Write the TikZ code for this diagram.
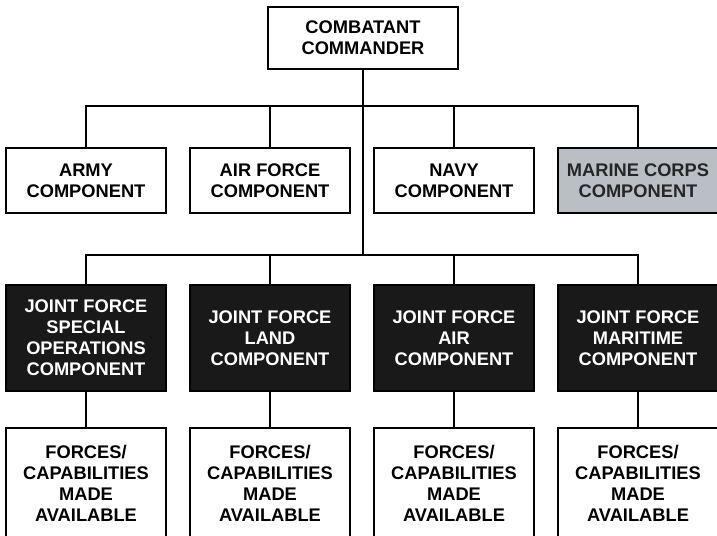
\documentclass[tikz,border=0pt]{standalone}
\usepackage{fontspec}
\setmainfont{Liberation Sans}
\usetikzlibrary{positioning}

\definecolor{marinegray}{RGB}{186,191,198}

\tikzset{
  unitbox/.style={draw, line width=1.4pt, minimum width=4cm, align=center,
    font=\fontsize{13}{15}\selectfont\bfseries, inner sep=0pt},
  svcbox/.style={unitbox, minimum height=1.625cm},
  jfbox/.style={unitbox, fill=black!90, text=white, minimum height=2.65cm},
  forcebox/.style={unitbox, minimum height=2.8cm},
  link/.style={line width=1.4pt}
}

\begin{document}
\begin{tikzpicture}
  \clip (0,0) rectangle (17.925,-13.4);

  % Kommandeur
  \node[unitbox, minimum width=4.75cm, minimum height=1.55cm] (cc) at (9.075,-0.95)
    {COMBATANT\\COMMANDER};

  % Teilstreitkraefte
  \node[svcbox] (army)   at (2.15,-4.5125)  {ARMY\\COMPONENT};
  \node[svcbox] (air)    at (6.75,-4.5125)  {AIR FORCE\\COMPONENT};
  \node[svcbox] (navy)   at (11.35,-4.5125) {NAVY\\COMPONENT};
  \node[svcbox, fill=marinegray, text=black!85] (marine) at (15.95,-4.5125)
    {MARINE CORPS\\COMPONENT};

  % Joint Force Komponenten
  \node[jfbox] (jfsoc)  at (2.15,-8.45)  {JOINT FORCE\\SPECIAL\\OPERATIONS\\COMPONENT};
  \node[jfbox] (jflcc)  at (6.75,-8.45)  {JOINT FORCE\\LAND\\COMPONENT};
  \node[jfbox] (jfacc)  at (11.35,-8.45) {JOINT FORCE\\AIR\\COMPONENT};
  \node[jfbox] (jfmcc)  at (15.95,-8.45) {JOINT FORCE\\MARITIME\\COMPONENT};

  % Kraefte
  \node[forcebox] (forces1) at (2.15,-12.09)  {FORCES/\\CAPABILITIES\\MADE\\AVAILABLE};
  \node[forcebox] (forces2) at (6.75,-12.09)  {FORCES/\\CAPABILITIES\\MADE\\AVAILABLE};
  \node[forcebox] (forces3) at (11.35,-12.09) {FORCES/\\CAPABILITIES\\MADE\\AVAILABLE};
  \node[forcebox] (forces4) at (15.95,-12.09) {FORCES/\\CAPABILITIES\\MADE\\AVAILABLE};

  % Verbindungslinien
  \coordinate (bus1) at (0,-2.65);
  \coordinate (bus2) at (0,-6.375);
  \draw[link] (cc.south) -- (cc.south |- bus2);
  \draw[link] (army.north) -- (army.north |- bus1) -- (marine.north |- bus1) -- (marine.north);
  \draw[link] (air.north) -- (air.north |- bus1);
  \draw[link] (navy.north) -- (navy.north |- bus1);
  \draw[link] (jfsoc.north) -- (jfsoc.north |- bus2) -- (jfmcc.north |- bus2) -- (jfmcc.north);
  \draw[link] (jflcc.north) -- (jflcc.north |- bus2);
  \draw[link] (jfacc.north) -- (jfacc.north |- bus2);
  \draw[link] (jfsoc) -- (forces1);
  \draw[link] (jflcc) -- (forces2);
  \draw[link] (jfacc) -- (forces3);
  \draw[link] (jfmcc) -- (forces4);
\end{tikzpicture}
\end{document}
